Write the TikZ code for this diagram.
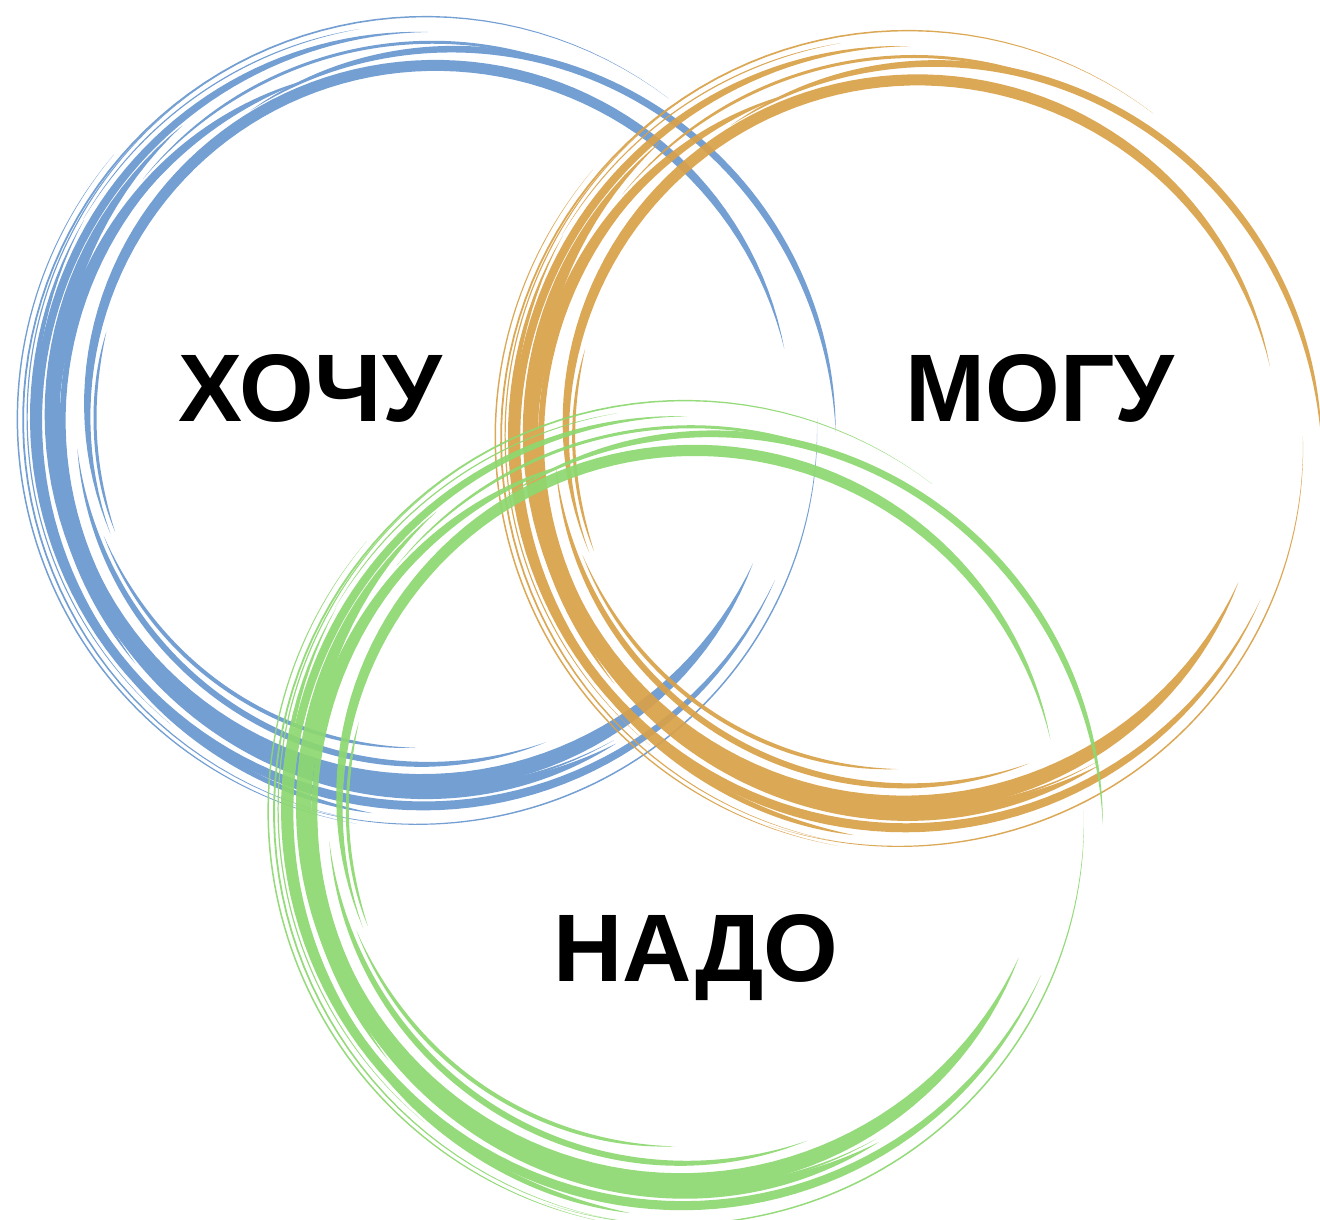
\documentclass[tikz,border=0pt]{standalone}
\usepackage{fontspec}
\setmainfont{Liberation Sans}
\definecolor{bluebrush}{RGB}{104,151,207}
\definecolor{orangebrush}{RGB}{217,161,72}
\definecolor{greenbrush}{RGB}{141,216,112}
% #1 start angle, #2 end angle, #3 start radius, #4 end radius, #5 max width, #6 colour
\newcommand\brushstroke[6]{%
  \fill[#6] plot[domain=#1:#2,samples=80,variable=\t]
    ({(#3+(#4-#3)*(\t-#1)/(#2-#1)+0.5*#5*bw((\t-#1)/(#2-#1)))*cos(\t)},
     {(#3+(#4-#3)*(\t-#1)/(#2-#1)+0.5*#5*bw((\t-#1)/(#2-#1)))*sin(\t)})
  -- plot[domain=#2:#1,samples=80,variable=\t]
    ({(#3+(#4-#3)*(\t-#1)/(#2-#1)-0.5*#5*bw((\t-#1)/(#2-#1)))*cos(\t)},
     {(#3+(#4-#3)*(\t-#1)/(#2-#1)-0.5*#5*bw((\t-#1)/(#2-#1)))*sin(\t)})
  -- cycle;}
\newcommand\brushring[1]{%
  \foreach \sa/\ea/\ra/\rb/\wd in {
    11/200/363/338/11,
    358/480/408/355/7,
    120/300/362/372/6,
    130/336/382/356/17,
    150/335/397/383/9,
    53/260/400/408/1.8,
    250/360/410/389/1.5,
    165/200/333/333/3,
    140/260/410/412/1.5,
    120/230/402/400/1.2,
    200/268/345/330/4,
    109/220/359/382/9,
    90/250/386/393/8,
    175/300/371/376/14,
    60/140/378/372/3,
    185/290/352/345/6,
    215/262/393/399/5,
    100/150/395/398/1.2}
  {\brushstroke{\sa}{\ea}{\ra}{\rb}{\wd}{#1}}}
\tikzset{
  label/.style={font=\fontsize{96}{100}\selectfont\bfseries, text=black, inner sep=0pt, anchor=base},
  ring/.style={transparency group, opacity=0.92}
}
\begin{document}
\begin{tikzpicture}[x=1pt,y=1pt,
  declare function={bw(\p)=1-(1-sin(180*\p))*(1-sin(180*\p));}]
\useasboundingbox (0,0) rectangle (1320,-1219);
\fill[white] (0,0) rectangle (1320,-1219);
\coordinate (bc) at (428,-418);
\coordinate (oc) at (910,-436);
\coordinate (gc) at (687,-810);
\begin{scope}[shift={(bc)}, scale=1.0, ring]
  \brushring{bluebrush}
\end{scope}
\begin{scope}[shift={(oc)}, scale=1.01, ring]
  \brushring{orangebrush}
\end{scope}
\begin{scope}[shift={(gc)}, scale=1.02, ring]
  \brushring{greenbrush}
\end{scope}
\node[label] (hochu) at (310,-421) {ХОЧУ};
\node[label] (mogu) at (1040,-421) {МОГУ};
\node[label] (nado) at (696,-981) {НАДО};
\end{tikzpicture}
\end{document}
